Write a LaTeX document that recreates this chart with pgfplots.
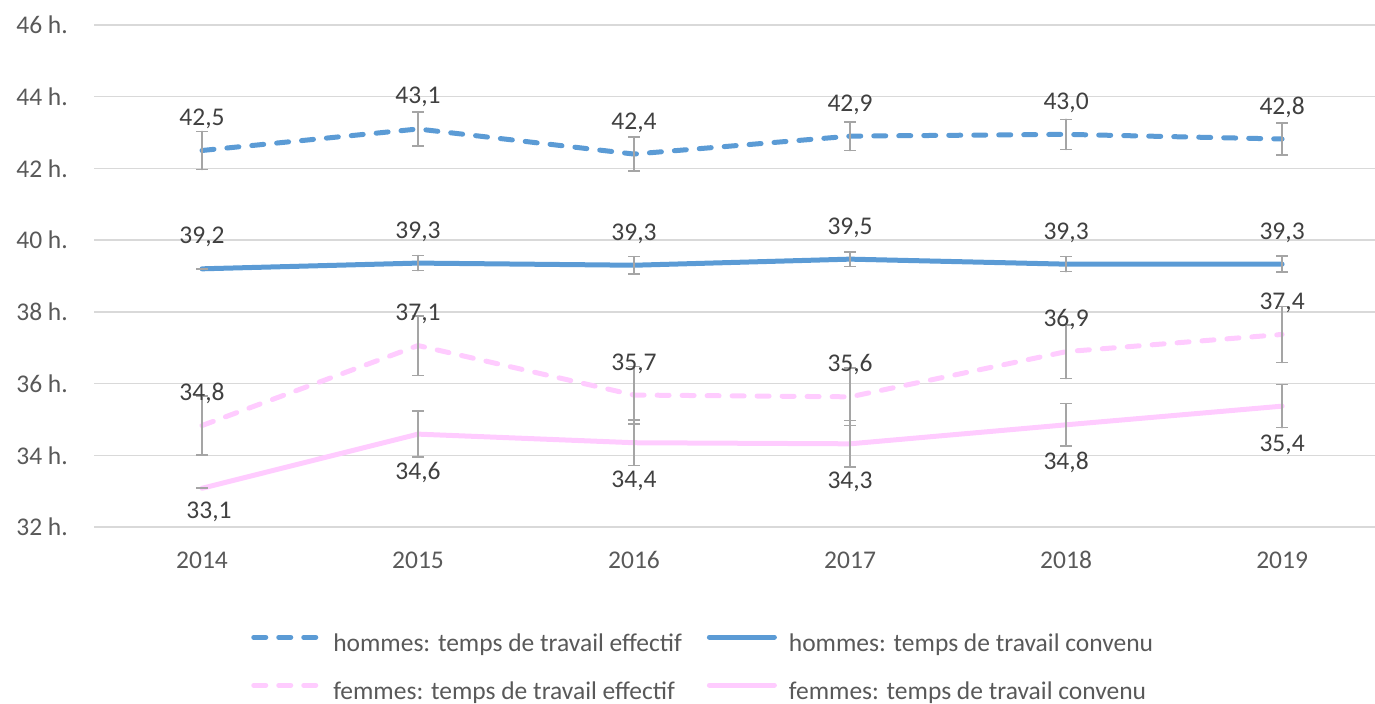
\documentclass[border=0pt]{standalone}
\usepackage{fontspec}
\setmainfont{Carlito}
\usepackage{pgfplots}
\usepackage{pgfplotstable}
\pgfplotsset{compat=1.18}
\definecolor{hblue}{HTML}{5B9BD5}
\definecolor{fpink}{HTML}{FFCCFF}
\definecolor{gridc}{HTML}{D9D9D9}
\definecolor{errc}{HTML}{A5A5A5}
\definecolor{tickc}{HTML}{595959}
\definecolor{labc}{HTML}{404040}

\pgfplotstableread{
x y err lab dy dx
0 42.50 0.53 {42,5} 25 0
1 43.10 0.47 {43,1} 25 0
2 42.40 0.47 {42,4} 25 0
3 42.90 0.40 {42,9} 25 0
4 42.95 0.42 {43,0} 25 0
5 42.82 0.45 {42,8} 25 0
}\he
\pgfplotstableread{
x y err lab dy dx
0 39.20 0.00 {39,2} 25 0
1 39.36 0.21 {39,3} 25 0
2 39.30 0.24 {39,3} 25 0
3 39.47 0.20 {39,5} 25 0
4 39.33 0.21 {39,3} 25 0
5 39.33 0.22 {39,3} 25 0
}\hc
\pgfplotstableread{
x y err lab dy dx
0 34.83 0.82 {34,8} 25 0
1 37.06 0.83 {37,1} 25 0
2 35.68 0.80 {35,7} 25 0
3 35.63 0.80 {35,6} 25 0
4 36.89 0.75 {36,9} 25 0
5 37.37 0.78 {37,4} 25 0
}\fe
\pgfplotstableread{
x y err lab dy dx
0 33.08 0.00 {33,1} -30 7
1 34.59 0.64 {34,6} -45 0
2 34.35 0.63 {34,4} -45 0
3 34.32 0.65 {34,3} -45 0
4 34.85 0.59 {34,8} -45 0
5 35.37 0.60 {35,4} -45 0
}\fc

\begin{document}
\fontsize{25.5bp}{30bp}\selectfont
\begin{tikzpicture}
\path[use as bounding box] (0,0) rectangle (1375bp,704bp);
\begin{axis}[
  at={(94bp,177bp)}, anchor=south west,
  scale only axis, width=1281bp, height=502bp,
  xmin=-0.5, xmax=5.43, ymin=32, ymax=46,
  clip=false,
  axis line style={draw=none},
  major tick length=0pt,
  xtick={0,...,5}, xticklabels={2014,2015,2016,2017,2018,2019},
  ytick={32,34,...,46},
  yticklabels={32 h.,34 h.,36 h.,38 h.,40 h.,42 h.,44 h.,46 h.},
  ymajorgrids, grid style={gridc, line width=1.5bp},
  tick label style={font=\fontsize{25.5bp}{30bp}\selectfont, text=tickc},
  xticklabel style={anchor=base, inner sep=0pt, yshift=-41bp},
  yticklabel style={anchor=east, inner sep=0pt, xshift=-26bp},
  every axis plot/.append style={line width=5bp, line cap=round, line join=round},
  error bars/y dir=both, error bars/y explicit,
  error bars/error bar style={errc, line width=1.6bp, solid},
  error bars/error mark options={rotate=90, mark size=5.75bp, errc, line width=1.6bp},
  point meta=explicit symbolic,
  visualization depends on={\thisrow{dy} \as \dy},
  visualization depends on={\thisrow{dx} \as \dx},
  nodes near coords,
  nodes near coords style={anchor=base, inner sep=0pt, text=labc, font=\fontsize{25.5bp}{30bp}\selectfont, yshift=\dy bp, xshift=\dx bp},
  legend columns=2,
  legend cell align=left,
  legend image code/.code={\draw[#1] (0bp,8bp) -- (65bp,8bp);},
  legend style={at={(0.1226,-0.2112)}, anchor=north west, draw=none, fill=none,
    inner sep=0pt, row sep=24bp,
    nodes={inner sep=0pt, text height=18bp, text depth=6bp, text=tickc, font=\fontsize{25.5bp}{30bp}\selectfont},
    /tikz/every odd column/.append style={column sep=12bp},
    /tikz/every even column/.append style={column sep=25bp}},
]
\addplot[hblue, dash pattern=on 12bp off 13bp] table[x=x, y=y, y error=err, meta=lab] {\he};
\addlegendentry{hommes: temps de travail effectif}
\addplot[hblue] table[x=x, y=y, y error=err, meta=lab] {\hc};
\addlegendentry{hommes: temps de travail convenu}
\addplot[fpink, dash pattern=on 12bp off 13bp] table[x=x, y=y, y error=err, meta=lab] {\fe};
\addlegendentry{femmes: temps de travail effectif}
\addplot[fpink] table[x=x, y=y, y error=err, meta=lab] {\fc};
\addlegendentry{femmes: temps de travail convenu}
\end{axis}
\end{tikzpicture}
\end{document}
